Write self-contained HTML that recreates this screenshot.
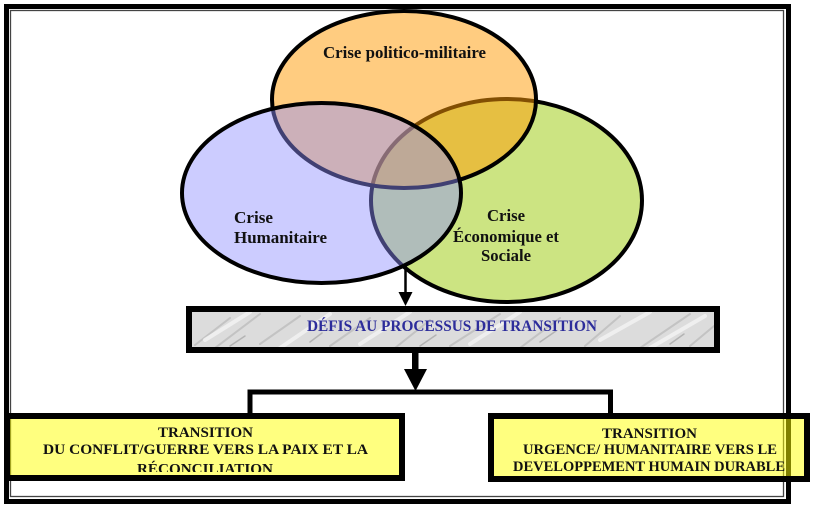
<!DOCTYPE html>
<html>
<head>
<meta charset="utf-8">
<style>
  html, body { margin: 0; padding: 0; background: #ffffff; }
  body { width: 815px; height: 509px; overflow: hidden; }
  svg { display: block; }
  text { font-family: "Liberation Serif", "DejaVu Serif", serif; font-weight: bold; }
</style>
</head>
<body>
<svg width="815" height="509" viewBox="0 0 815 509" xmlns="http://www.w3.org/2000/svg">
  <defs>
    <clipPath id="clipL">
      <rect x="10" y="419" width="389" height="53"/>
    </clipPath>
    <clipPath id="clipD">
      <rect x="192" y="312" width="522" height="35"/>
    </clipPath>
  </defs>

  <!-- page background -->
  <rect x="0" y="0" width="815" height="509" fill="#ffffff"/>

  <!-- outer double frame -->
  <rect x="6.5" y="6.5" width="782" height="495" fill="none" stroke="#000" stroke-width="5"/>
  <rect x="10.5" y="10.5" width="773" height="486" fill="none" stroke="#444" stroke-width="1.3"/>

  <!-- Venn circles: green (bottom), orange, blue (top) -->
  <ellipse cx="506.5" cy="200.5" rx="135.5" ry="101.5" fill="rgb(204,228,130)" stroke="#000" stroke-width="4"/>
  <ellipse cx="404" cy="99.5" rx="132" ry="88.5" fill="rgba(255,155,6,0.51)" stroke="#000" stroke-width="4"/>
  <ellipse cx="321.5" cy="193" rx="139.5" ry="90" fill="rgba(142,142,255,0.45)" stroke="#000" stroke-width="4"/>

  <!-- circle labels -->
  <text x="323" y="58" font-size="16.5" fill="#111" textLength="163" lengthAdjust="spacingAndGlyphs">Crise politico-militaire</text>
  <text x="234" y="223" font-size="16.5" fill="#111" textLength="39" lengthAdjust="spacingAndGlyphs">Crise</text>
  <text x="234" y="243" font-size="16.5" fill="#111" textLength="93" lengthAdjust="spacingAndGlyphs">Humanitaire</text>
  <text x="487" y="221" font-size="16.5" fill="#111" textLength="38" lengthAdjust="spacingAndGlyphs">Crise</text>
  <text x="453" y="242" font-size="16.5" fill="#111" textLength="106" lengthAdjust="spacingAndGlyphs">Économique et</text>
  <text x="481" y="261" font-size="16.5" fill="#111" textLength="50" lengthAdjust="spacingAndGlyphs">Sociale</text>

  <!-- small arrow from circles to DEFIS box -->
  <line x1="405.5" y1="264" x2="405.5" y2="293" stroke="#000" stroke-width="2.5"/>
  <polygon points="398.5,292 412.5,292 405.5,306" fill="#000"/>

  <!-- DEFIS box with marble-ish fill -->
  <rect x="189" y="309" width="528" height="41" fill="#dcdcdc"/>
  <g clip-path="url(#clipD)" stroke-linecap="round">
    <path d="M195 345 L230 318 M215 348 L260 314 M260 344 L300 316 M330 346 L370 318 M395 348 L430 320 M450 346 L500 314 M520 348 L560 318 M585 346 L620 316 M640 348 L690 314 M690 346 L714 326" stroke="#b8b8b8" stroke-width="2" opacity="0.7" fill="none"/>
    <path d="M205 340 L250 312 M280 348 L330 314 M360 344 L410 312 M470 344 L520 312 M600 340 L650 312 M650 348 L705 316" stroke="#f4f4f4" stroke-width="4" opacity="0.8" fill="none"/>
    <path d="M230 346 L245 336 M310 342 L322 333 M420 346 L436 335 M540 342 L556 331 M670 344 L684 334" stroke="#9a9a9a" stroke-width="1.5" opacity="0.6" fill="none"/>
  </g>
  <rect x="189" y="309" width="528" height="41" fill="none" stroke="#000" stroke-width="6"/>
  <text x="307" y="331" font-size="15.5" fill="#2d2d9b" textLength="290" lengthAdjust="spacingAndGlyphs">DÉFIS AU PROCESSUS DE TRANSITION</text>

  <!-- big arrow down -->
  <rect x="412" y="352" width="6.5" height="18" fill="#000"/>
  <polygon points="404,369 427,369 415.5,391" fill="#000"/>

  <!-- branching connector -->
  <line x1="247.5" y1="392" x2="613" y2="392" stroke="#000" stroke-width="5"/>
  <line x1="250" y1="390" x2="250" y2="414" stroke="#000" stroke-width="5"/>
  <line x1="610.5" y1="390" x2="610.5" y2="414" stroke="#000" stroke-width="5"/>

  <!-- left yellow box -->
  <rect x="7" y="416" width="395" height="62" fill="rgba(255,255,0,0.5)" stroke="#000" stroke-width="6"/>
  <g clip-path="url(#clipL)">
    <text x="158" y="437" font-size="15" fill="#111" textLength="95" lengthAdjust="spacingAndGlyphs">TRANSITION</text>
    <text x="43" y="454" font-size="15" fill="#111" textLength="325" lengthAdjust="spacingAndGlyphs">DU CONFLIT/GUERRE VERS LA PAIX ET LA</text>
    <text x="137" y="473.5" font-size="15" fill="#111" textLength="136" lengthAdjust="spacingAndGlyphs">RÉCONCILIATION</text>
  </g>

  <!-- right yellow box -->
  <rect x="491" y="416" width="316" height="63" fill="rgba(255,255,0,0.5)" stroke="#000" stroke-width="6"/>
  <text x="602" y="438" font-size="15" fill="#111" textLength="95" lengthAdjust="spacingAndGlyphs">TRANSITION</text>
  <text x="523" y="454" font-size="15" fill="#111" textLength="254" lengthAdjust="spacingAndGlyphs">URGENCE/ HUMANITAIRE VERS LE</text>
  <text x="513" y="471" font-size="15" fill="#111" textLength="272" lengthAdjust="spacingAndGlyphs">DEVELOPPEMENT HUMAIN DURABLE</text>
</svg>
</body>
</html>
